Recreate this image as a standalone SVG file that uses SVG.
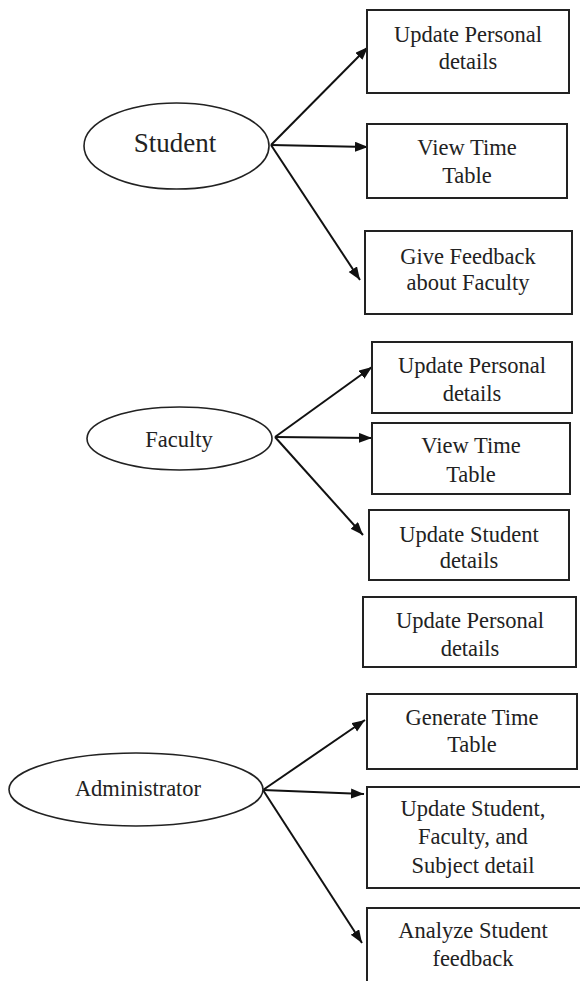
<svg xmlns="http://www.w3.org/2000/svg" width="580" height="981" viewBox="0 0 580 981">
<style>
.box{fill:#fff;stroke:#222;stroke-width:2}
.ell{fill:#fff;stroke:#222;stroke-width:1.6}
.t{font-family:"Liberation Serif","Times New Roman",serif;font-size:22.5px;fill:#222;text-anchor:middle}
.big{font-size:27px}
.c{stroke:#111;stroke-width:2;fill:none;marker-end:url(#ah)}
</style>
<defs>
<marker id="ah" markerUnits="userSpaceOnUse" markerWidth="14" markerHeight="11" refX="13" refY="5" orient="auto">
<path d="M0,0 L13,5 L0,10 z" fill="#111"/>
</marker>
</defs>
<rect width="580" height="981" fill="#fff"/>
<g id="connectors">
<line class="c" x1="271" y1="145" x2="368" y2="47"/>
<line class="c" x1="271" y1="145" x2="368" y2="147"/>
<line class="c" x1="271" y1="145" x2="360" y2="280"/>
<line class="c" x1="275" y1="437" x2="372" y2="367"/>
<line class="c" x1="275" y1="437" x2="372" y2="438"/>
<line class="c" x1="275" y1="437" x2="363" y2="535"/>
<line class="c" x1="263" y1="790" x2="365" y2="720"/>
<line class="c" x1="263" y1="790" x2="364" y2="794"/>
<line class="c" x1="263" y1="790" x2="362" y2="943"/>
</g>
<g id="student">
<ellipse class="ell" cx="176.5" cy="146" rx="92.5" ry="43"/>
<text class="t big" x="175" y="152">Student</text>
</g>
<g id="s_update_personal">
<rect class="box" x="367" y="10" width="202" height="83"/>
<text class="t" x="468" y="42">Update Personal</text>
<text class="t" x="468" y="69">details</text>
</g>
<g id="s_view_timetable">
<rect class="box" x="367" y="124" width="200" height="74"/>
<text class="t" x="467" y="155">View Time</text>
<text class="t" x="467" y="183">Table</text>
</g>
<g id="s_feedback">
<rect class="box" x="365" y="231" width="207" height="83"/>
<text class="t" x="468" y="264">Give Feedback</text>
<text class="t" x="468" y="290">about Faculty</text>
</g>
<g id="faculty">
<ellipse class="ell" cx="179.5" cy="438.5" rx="92.5" ry="31.5"/>
<text class="t" x="179" y="447">Faculty</text>
</g>
<g id="f_update_personal">
<rect class="box" x="372" y="342" width="200" height="71"/>
<text class="t" x="472" y="373">Update Personal</text>
<text class="t" x="472" y="401">details</text>
</g>
<g id="f_view_timetable">
<rect class="box" x="372" y="423" width="198" height="71"/>
<text class="t" x="471" y="453">View Time</text>
<text class="t" x="471" y="482">Table</text>
</g>
<g id="f_update_student">
<rect class="box" x="369" y="510" width="200" height="70"/>
<text class="t" x="469" y="542">Update Student</text>
<text class="t" x="469" y="568">details</text>
</g>
<g id="a_update_personal">
<rect class="box" x="363" y="597" width="213" height="70"/>
<text class="t" x="470" y="628">Update Personal</text>
<text class="t" x="470" y="656">details</text>
</g>
<g id="administrator">
<ellipse class="ell" cx="136" cy="789.5" rx="127" ry="36.5"/>
<text class="t" x="138" y="796">Administrator</text>
</g>
<g id="a_generate_timetable">
<rect class="box" x="367" y="694" width="210" height="75"/>
<text class="t" x="472" y="725">Generate Time</text>
<text class="t" x="472" y="752">Table</text>
</g>
<g id="a_update_details">
<rect class="box" x="367" y="787" width="216" height="101"/>
<text class="t" x="473" y="816">Update Student,</text>
<text class="t" x="473" y="844">Faculty, and</text>
<text class="t" x="473" y="873">Subject detail</text>
</g>
<g id="a_analyze_feedback">
<rect class="box" x="367" y="908" width="216" height="80"/>
<text class="t" x="473" y="938">Analyze Student</text>
<text class="t" x="473" y="966">feedback</text>
</g>
</svg>
